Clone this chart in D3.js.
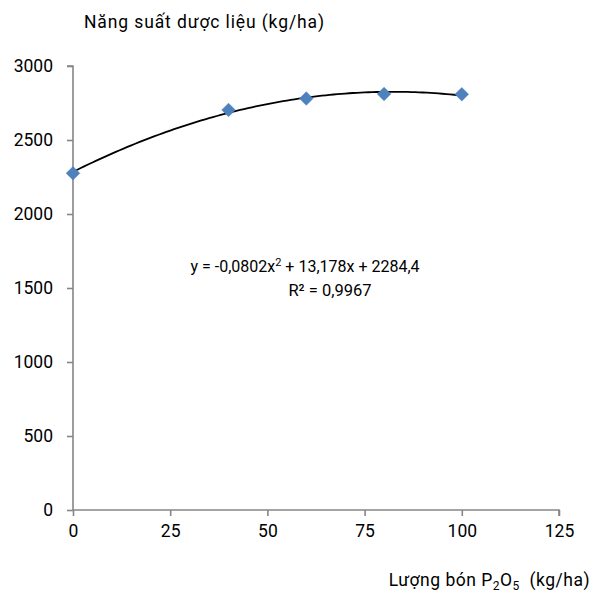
<!DOCTYPE html>
<html>
<head>
<meta charset="utf-8">
<script src="https://cdn.jsdelivr.net/npm/d3@7"></script>
<style>
  body { margin: 0; background: #fff; }
  svg text { font-family: Roboto, sans-serif; fill: #000; }
</style>
</head>
<body>
<div id="chart"></div>
<script>
// data
const doses = [0, 40, 60, 80, 100];
const yields = [2275, 2703, 2780, 2811, 2809];
const xTicks = [0, 25, 50, 75, 100, 125];
const yTicks = [0, 500, 1000, 1500, 2000, 2500, 3000];
// trendline coefficients as printed: a*x^2 + b*x + c
const trendCoef = [-0.0802, 13.178, 2284.4];

const width = 595, height = 594;
const margin = { top: 66, right: 36, bottom: 84, left: 73 };
const font = 'Roboto, sans-serif';

const svg = d3.select('#chart').append('svg')
  .attr('width', width)
  .attr('height', height);

const x = d3.scaleLinear().domain([0, 125]).range([margin.left, width - margin.right]);
const y = d3.scaleLinear().domain([0, 3000]).range([height - margin.bottom, margin.top]);

const axisColor = '#868686';

const xAxis = svg.append('g')
  .attr('transform', `translate(0, ${y(0)})`)
  .call(d3.axisBottom(x).tickValues(xTicks).tickFormat(d3.format('d')).tickSize(6).tickPadding(9));
const yAxis = svg.append('g')
  .attr('transform', `translate(${x(0)}, 0)`)
  .call(d3.axisLeft(y).tickValues(yTicks).tickFormat(d3.format('d')).tickSize(6).tickPadding(14));

[xAxis, yAxis].forEach(g => {
  g.select('.domain').attr('stroke', axisColor).attr('stroke-width', 1.6);
  g.selectAll('.tick line').attr('stroke', axisColor).attr('stroke-width', 1.6);
  g.selectAll('.tick text').attr('font-size', 17.5).attr('font-family', font).attr('fill', '#000');
});
xAxis.select('.domain').attr('d', `M${x(0)},0H${x(125)}V6`);
yAxis.select('.domain').attr('d', `M-6,${y(3000)}H0V${y(0)}`);

// trendline
const trend = d3.range(0, 100.5, 1).map(v => [v, trendCoef[0] * v * v + trendCoef[1] * v + trendCoef[2]]);
svg.append('path')
  .datum(trend)
  .attr('fill', 'none')
  .attr('stroke', '#000')
  .attr('stroke-width', 1.8)
  .attr('d', d3.line().x(d => x(d[0])).y(d => y(d[1])).curve(d3.curveMonotoneX));

// markers
svg.append('g')
  .selectAll('path')
  .data(doses)
  .enter().append('path')
  .attr('d', d3.symbol().type(d3.symbolDiamond2).size(118))
  .attr('transform', (d, i) => `translate(${x(d)}, ${y(yields[i])})`)
  .attr('fill', '#4F81BD')
  .attr('stroke', '#4A7EBB')
  .attr('stroke-width', 0.5);

// titles
svg.append('text')
  .attr('x', 84).attr('y', 28)
  .attr('font-size', 17.5)
  .attr('textLength', 240)
  .attr('lengthAdjust', 'spacing')
  .text('Năng suất dược liệu (kg/ha)');

const xt = svg.append('text')
  .attr('x', 590).attr('y', 586)
  .attr('text-anchor', 'end')
  .attr('font-size', 17.5)
  .attr('letter-spacing', 0.5);
xt.append('tspan').text('Lượng bón P');
xt.append('tspan').attr('font-size', 12).attr('dy', 4).text('2');
xt.append('tspan').attr('dy', -4).text('O');
xt.append('tspan').attr('font-size', 12).attr('dy', 4).text('5');
xt.append('tspan').attr('dy', -4).text('\u00a0 (kg/ha)');

// equation
const eq = svg.append('text')
  .attr('x', 305).attr('y', 272)
  .attr('text-anchor', 'middle')
  .attr('font-size', 16);
eq.append('tspan').text('y = -0,0802x');
eq.append('tspan').attr('font-size', 11).attr('dy', -6).text('2');
eq.append('tspan').attr('dy', 6).text(' + 13,178x + 2284,4');

svg.append('text')
  .attr('x', 330).attr('y', 296)
  .attr('text-anchor', 'middle')
  .attr('font-size', 16.5)
  .text('R² = 0,9967');
</script>
</body>
</html>
